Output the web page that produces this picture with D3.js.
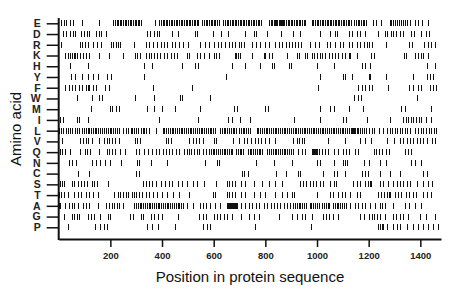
<!DOCTYPE html>
<html lang="en">
<head>
<meta charset="utf-8">
<title>Amino acid positions</title>
<script src="https://cdn.jsdelivr.net/npm/d3@7"></script>
<style>
  body { margin: 0; background: #fff; }
  text { font-family: "Liberation Sans", Arial, Helvetica, sans-serif; }
</style>
</head>
<body>
<script>
var w = 460;
var h = 299;

// rows, top to bottom
var aminoAcids = ["E","D","R","K","H","Y","F","W","M","I","L","V","Q","N","C","S","T","A","G","P"];
var xTicks = [200, 400, 600, 800, 1000, 1200, 1400];
var seqLength = 1480;

// residue positions, one array per amino acid
var posE = [10,19,28,45,54,90,157,212,218,224,231,237,243,250,256,262,269,275,281,288,294,300,306,312,318,373,
  390,396,402,409,415,421,428,434,440,447,453,459,466,472,478,485,491,497,504,510,516,523,529,535,541,
  556,562,569,575,581,588,594,600,607,613,619,637,643,650,656,662,669,675,681,688,694,700,707,713,719,726,732,738,745,751,757,764,770,776,783,
  814,820,826,832,836,840,846,852,855,858,861,864,868,874,880,887,893,899,905,911,917,924,930,936,942,948,955,
  980,986,992,999,1005,1011,1018,1024,1030,1037,1043,1049,1056,1062,1068,1075,1081,1087,1094,1100,1106,1113,1119,1125,1130,
  1145,1151,1158,1164,1170,1177,1183,1189,1216,1229,1246,1281,1288,1295,1302,1310,1318,1326,1334,1342,1350,1360,1380,1392,1406,1431];
var posD = [16,29,42,55,65,87,97,109,119,145,155,165,184,340,355,370,380,388,437,463,528,537,599,630,655,720,755,765,805,860,
  906,935,1012,1051,1068,1079,1122,1135,1154,1167,1186,1236,1262,1271,1285,1295,1305,1320,1332,1365,1375,1403,1423,1433];
var posR = [9,84,92,100,114,134,148,162,203,212,220,229,237,292,337,350,366,380,395,408,418,437,450,466,483,500,547,565,582,
  600,617,630,643,659,671,684,697,704,717,749,764,781,798,816,839,852,865,880,891,
  902,915,928,937,973,993,1006,1038,1051,1070,1090,1102,1122,1135,1154,1167,1180,1193,1201,1214,1268,1358,1367,1416,1429,1442,1455];
var posK = [26,35,44,52,58,65,70,83,93,104,119,155,196,248,296,305,314,337,350,359,369,380,393,408,418,434,447,457,496,505,537,546,563,582,
  600,609,620,682,688,695,700,749,794,800,813,826,884,922,932,954,961,980,989,1000,1010,1019,1031,1048,1057,1070,1083,1096,1109,1122,1128,1154,
  1210,1220,1336,1345,1378,1391,1401,1411,1429];
var posH = [43,114,331,363,476,528,540,671,723,781,824,833,891,899,999,1064,1173,1186,1205,1427,1455];
var posY = [47,64,91,114,132,152,188,201,330,647,1013,1102,1108,1135,1200,1204,1268,1372,1425,1438,1450];
var posF = [26,39,52,65,78,91,104,113,119,134,145,181,194,366,515,1002,1160,1173,1186,1203,1212,1274,1358,1371,1391,1403,1436,1449,1461];
var posW = [72,128,157,167,297,369,470,478,585,1145,1157,1170,1388];
var posM = [125,198,208,221,234,342,369,398,452,548,677,692,798,810,1012,1051,1064,1122,1178,1326,1339,1443];
var posI = [5,15,70,80,115,390,539,656,669,701,742,909,1012,1099,1112,1195,1281,1332,1343,1352,1362,1372,1383,1393,1403,1423,1442];
var posL = [3,9,16,28,35,42,50,62,70,78,90,97,104,112,118,125,132,139,146,153,160,168,175,182,190,197,204,212,218,226,234,250,262,270,278,285,292,300,308,
  318,325,331,337,350,376,402,409,416,423,430,437,444,451,458,465,472,479,486,493,500,507,514,521,528,535,542,549,556,563,570,577,584,591,598,606,
  624,631,638,645,652,659,666,673,680,687,698,705,712,719,726,733,740,
  766,773,780,787,794,801,808,815,822,829,836,843,850,857,864,871,878,885,892,899,
  906,913,920,927,934,941,948,955,962,969,976,983,990,997,1004,1011,1018,1025,1032,1039,1046,1053,1060,1067,1074,1081,1088,1095,1102,1109,1116,1123,1130,1134,1138,1142,1146,1153,1160,1167,1174,1181,1188,
  1203,1212,1222,1240,1255,1270,1281,1290,1300,1310,1320,1330,1340,1350,1360,1380,1392,1402,1412,1422,1432,1442,1452,1462];
var posV = [13,83,93,104,114,127,155,177,186,196,207,217,235,296,305,314,415,425,436,505,518,531,544,557,600,609,674,697,717,729,746,759,772,785,798,813,838,
  908,922,932,941,950,1044,1109,1166,1186,1210,1270,1298,1320,1334,1347,1360,1373,1386,1399,1412,1425,1444,1457];
var posQ = [5,14,25,44,83,102,111,121,157,186,196,207,217,237,257,300,311,331,344,363,376,389,402,415,427,440,453,466,486,496,505,514,524,535,544,560,570,582,591,
  596,603,610,617,624,631,638,645,652,659,666,672,686,693,700,707,714,732,739,746,753,760,767,774,781,788,808,815,822,829,836,843,850,857,864,871,878,885,892,899,
  906,928,941,954,980,984,988,992,996,1000,1006,1019,1031,1044,1064,1083,1102,1113,1122,1148,1160,1220,1230,1240,1252,1268,1280,1340,1352,1365];
var posN = [38,52,68,130,146,160,180,198,240,305,311,357,418,566,613,622,762,833,902,999,1012,1064,1100,1109,1118,1180,1203,1242,1268,1365,1378,1403];
var posC = [74,119,300,312,708,719,731,842,880,925,935,1025,1064,1077,1109,1173,1186,1199,1244,1283,1321,1412,1425];
var posS = [5,13,21,50,60,74,86,97,110,128,138,147,190,327,337,350,363,376,395,411,427,440,460,479,498,518,537,563,609,652,661,671,684,704,723,755,788,813,837,865,
  935,945,958,971,984,997,1010,1025,1051,1064,1073,1141,1154,1166,1186,1198,1204,1210,1244,1257,1276,1296,1309,1321,1334,1347,1360,1386,1412,1431,1444];
var posT = [3,9,22,35,61,74,87,106,119,132,151,216,229,238,250,261,270,283,292,300,311,324,337,350,366,382,399,421,444,466,505,
  599,607,652,661,671,682,704,723,755,781,800,839,865,884,902,911,999,1051,1061,1083,1096,1109,1126,1154,1167,
  1235,1248,1261,1272,1278,1284,1300,1313,1326,1345,1358,1371,1384,1410,1425,1440];
var posA = [2,6,26,39,52,61,74,93,106,119,151,184,196,207,216,225,235,248,292,299,306,313,320,327,334,341,348,355,362,369,376,383,390,397,404,411,418,425,432,439,446,453,460,467,474,481,
  495,518,547,557,570,586,605,625,651,655,659,663,667,671,675,679,683,687,691,704,723,736,749,762,775,794,807,820,833,846,858,871,884,897,
  908,915,922,929,936,943,950,957,971,978,985,992,999,1006,1020,1027,1034,1041,1048,1062,1069,1076,1083,1090,1097,1104,1111,
  1128,1148,1160,1173,1186,1205,1223,1242,1251,1262,1294,1339,1358,1378,1403];
var posG = [20,50,60,70,80,115,126,137,160,190,200,276,289,318,328,357,369,385,398,460,544,557,570,600,613,626,639,652,671,704,736,755,775,852,
  902,922,941,954,980,1025,1035,1048,1061,1083,1167,1180,1203,1212,1222,1232,1242,1262,1294,1307,1320,1332,1352,1397,1423,1455];
var posP = [35,141,160,174,188,341,360,386,450,560,573,586,760,975,1238,1244,1250,1256,1270,1296,1309,1321,1347,1373,1392,1412,1431,1450,1470];

var positions = [posE,posD,posR,posK,posH,posY,posF,posW,posM,posI,posL,posV,posQ,posN,posC,posS,posT,posA,posG,posP];

var x = d3.scaleLinear()
          .domain([0, seqLength])
          .range([58.7, 441]);

var y = d3.scalePoint()
          .domain(aminoAcids)
          .range([23.3, 227.3]);

var svg = d3.select('body')
            .append('svg')
            .attr('width', w)
            .attr('height', h);

svg.append('rect').attr('width', w).attr('height', h).attr('fill', '#fff');

// one row of marks per amino acid
var rows = svg.selectAll('g.row')
              .data(aminoAcids)
              .enter()
              .append('g')
              .attr('class', 'row');

rows.selectAll('rect')
    .data(function(d, i) { return positions[i].map(function(p) { return {aa: d, pos: p}; }); })
    .enter()
    .append('rect')
    .attr('x', function(d) { return Math.round(x(d.pos)); })
    .attr('y', function(d) { return Math.round(y(d.aa)) - 3; })
    .attr('width', 1)
    .attr('height', 6)
    .attr('fill', '#111');

// y axis
var yAxis = svg.append('g')
               .attr('transform', 'translate(58.7,0)')
               .call(d3.axisLeft(y).tickSize(12).tickPadding(6));
yAxis.select('.domain').remove();
yAxis.selectAll('line').attr('stroke', '#111').attr('stroke-width', 1.5);
yAxis.selectAll('text').attr('font-size', 10.5).attr('font-weight', 'bold').attr('fill', '#222');

svg.append('line')
   .attr('x1', 58.7).attr('x2', 58.7)
   .attr('y1', 18).attr('y2', 240)
   .attr('stroke', '#111')
   .attr('stroke-width', 2);

// x axis
var xAxis = svg.append('g')
               .attr('transform', 'translate(0,239)')
               .call(d3.axisBottom(x).tickValues(xTicks).tickFormat(d3.format('d'))
                       .tickSize(8).tickSizeOuter(0).tickPadding(5));
xAxis.select('.domain').attr('stroke', '#111').attr('stroke-width', 2);
xAxis.selectAll('line').attr('stroke', '#111').attr('stroke-width', 1.5);
xAxis.selectAll('text').attr('font-size', 9.5).attr('font-weight', 'bold').attr('fill', '#222');

svg.append('text')
   .attr('x', 250)
   .attr('y', 282)
   .attr('text-anchor', 'middle')
   .attr('font-size', 15)
   .attr('fill', '#111')
   .text('Position in protein sequence');

svg.append('text')
   .attr('transform', 'translate(21,129) rotate(-90)')
   .attr('text-anchor', 'middle')
   .attr('font-size', 15)
   .attr('fill', '#111')
   .text('Amino acid');
</script>
</body>
</html>
